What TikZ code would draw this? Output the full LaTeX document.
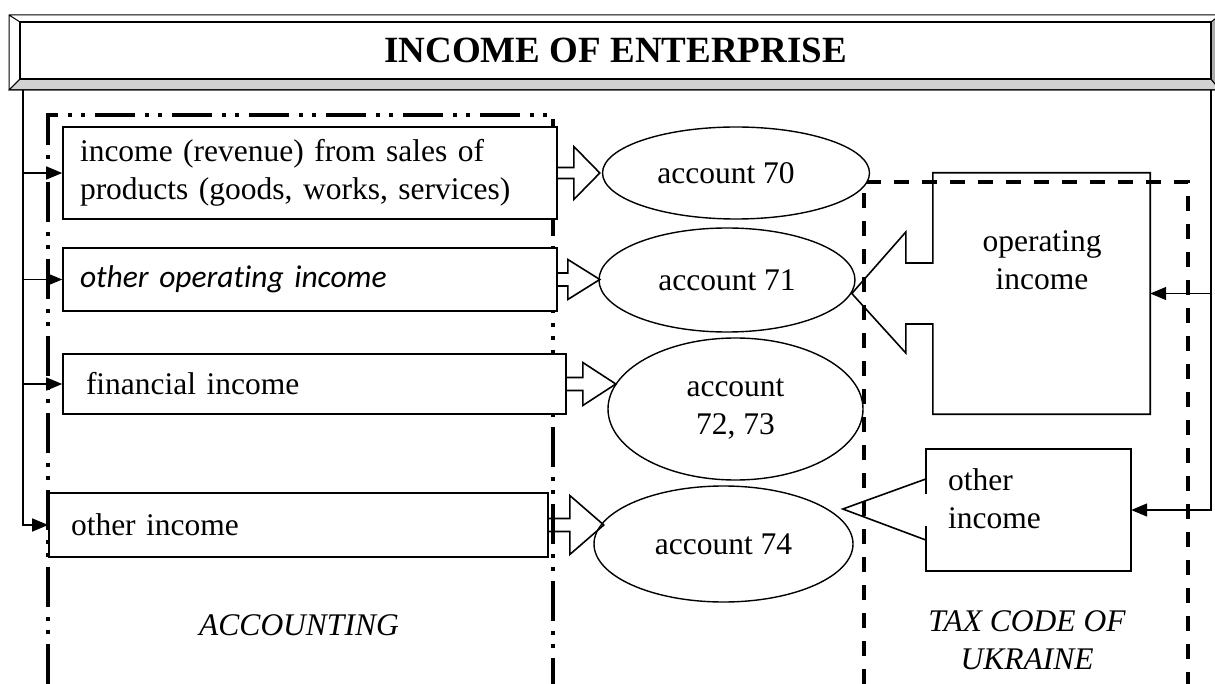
\documentclass[tikz,border=0pt]{standalone}
\usepackage{fontspec}
\setmainfont{Liberation Serif}
\newfontfamily\calibri[Ligatures=NoCommon]{Carlito}
\usetikzlibrary{shapes.geometric,arrows.meta,calc}

\newcommand{\fatarrow}[5]{%
	\draw[fat] ($(#1.east)+(0,-#2)$) -- ++(#3,0) -- ++(0,{#2-#4}) -- ++(#5,#4)
		-- ++(-#5,#4) -- ++(0,{#2-#4}) -- ++(-#3,0);}

\begin{document}
\begin{tikzpicture}[x=1pt,y=-1pt,
			font=\fontsize{31.5}{38}\selectfont,
			box/.style={draw,fill=white,line width=1.6pt,align=left,inner ysep=0pt},
			acc/.style={ellipse,draw,fill=white,line width=1.4pt,inner sep=0pt,align=center},
			fat/.style={line width=1.6pt},
			feed/.style={line width=1.4pt,-{Triangle[length=16pt,width=13pt]}},
			accborder/.style={line width=4pt,dash pattern=on 40pt off 10pt on 4pt off 9pt on 4pt off 10pt},
			taxborder/.style={line width=4pt,dash pattern=on 15pt off 13pt}]
		\useasboundingbox (0,0) rectangle (1215,684);

		\draw[accborder] (48,684) -- (48,115) -- (553,115) -- (553,684);
		\draw[taxborder] (864,684) -- (864,182) -- (1188,182) -- (1188,684);

		\fill[white] (9,15) rectangle (1220,90);
		\filldraw[fill=gray!35,line width=1pt] (9,90) -- (20,79) -- (1211,79) -- (1220,90) -- cycle;
		\filldraw[fill=gray!65,line width=1pt] (1211,22) -- (1220,15) -- (1220,90) -- (1211,79) -- cycle;
		\draw[line width=1pt] (9,15) -- (20,22) (9,90) -- (20,79) (9,15) rectangle (1220,90);
		\node[draw,line width=2.2pt,minimum width=1191pt,minimum height=57pt,inner sep=0pt,
			font=\fontsize{37}{44}\selectfont\bfseries] (head) at (615.5,50.5) {INCOME OF ENTERPRISE};

		\node[box,text width=460pt,inner xsep=17pt,minimum height=92pt] (b1) at (310,173)
			{income (revenue) from sales of\\products (goods, works, services)};
		\node[box,text width=460pt,inner xsep=17pt,minimum height=63pt] (b2) at (310,279.5)
			{\calibri\itshape other operating income};
		\node[box,text width=457pt,inner xsep=23pt,minimum height=60pt] (b3) at (314.5,384)
			{financial income};
		\node[box,text width=455pt,inner xsep=22pt,minimum height=64pt] (b4) at (298.5,525)
			{other income};

		\node[acc,minimum width=267pt,minimum height=92pt] (e1) at (736,173) {account 70\hspace{20pt}};
		\node[acc,minimum width=256pt,minimum height=104pt] (e2) at (727,280) {account 71};
		\node[acc,minimum width=255pt,minimum height=142pt] (e3) at (735.5,409) {account\\72, 73};
		\node[acc,minimum width=259pt,minimum height=116pt] (e4) at (723.5,544) {account 74};

		\fatarrow{b1}{5.5}{16}{26.5}{26}
		\fatarrow{b2}{6.5}{10}{20}{32}
		\fatarrow{b3}{6.5}{16}{21.5}{33}
		\fatarrow{b4}{6.5}{21}{29.5}{34}

		\node[minimum width=217pt,minimum height=241pt,inner sep=0pt] (opinc) at (1041.5,293.5) {};
		\draw[fat] ($(opinc.west)+(0,-30.5)$) -- (opinc.north west) -- (opinc.north east)
			-- (opinc.south east) -- (opinc.south west) -- ($(opinc.west)+(0,30.5)$)
			-- ++(-27,0) -- ++(0,29) -- ($(opinc.west)+(-81,0)$)
			-- ($(opinc.west)+(-27,-61.5)$) -- ++(0,31) -- cycle;
		\node[align=center] (opinctext) at (1042,260) {operating\\income};

		\node[minimum width=205pt,minimum height=122pt,inner sep=0pt] (othinc) at (1028.5,510) {};
		\draw[fat] ($(othinc.west)+(0,-16)$) -- (othinc.north west) -- (othinc.north east)
			-- (othinc.south east) -- (othinc.south west) -- ($(othinc.west)+(0,16)$);
		\draw[fat] ($(othinc.west)+(0,-31)$) -- ($(othinc.west)+(-83,-1)$) -- ($(othinc.west)+(0,30)$);
		\node[align=left,anchor=west,inner sep=0pt] (othinctext) at (948,499) {other\\income};

		\coordinate (busL) at (23,90);
		\coordinate (busR) at (1211,90);
		\draw[feed] (busL) |- (b1.west);
		\draw[feed] (busL) |- (b2.west);
		\draw[feed] (busL) |- (b3.west);
		\draw[feed] (busL) |- (b4.west);
		\draw[feed] (busR) |- (opinc.east);
		\draw[feed] (busR) |- (othinc.east);

		\node[font=\fontsize{31.5}{38}\selectfont\itshape] (acclabel) at (299,625) {ACCOUNTING};
		\node[font=\fontsize{31.5}{38}\selectfont\itshape,align=center] (taxlabel) at (1027,640)
			{TAX CODE OF\\UKRAINE};
\end{tikzpicture}
\end{document}
